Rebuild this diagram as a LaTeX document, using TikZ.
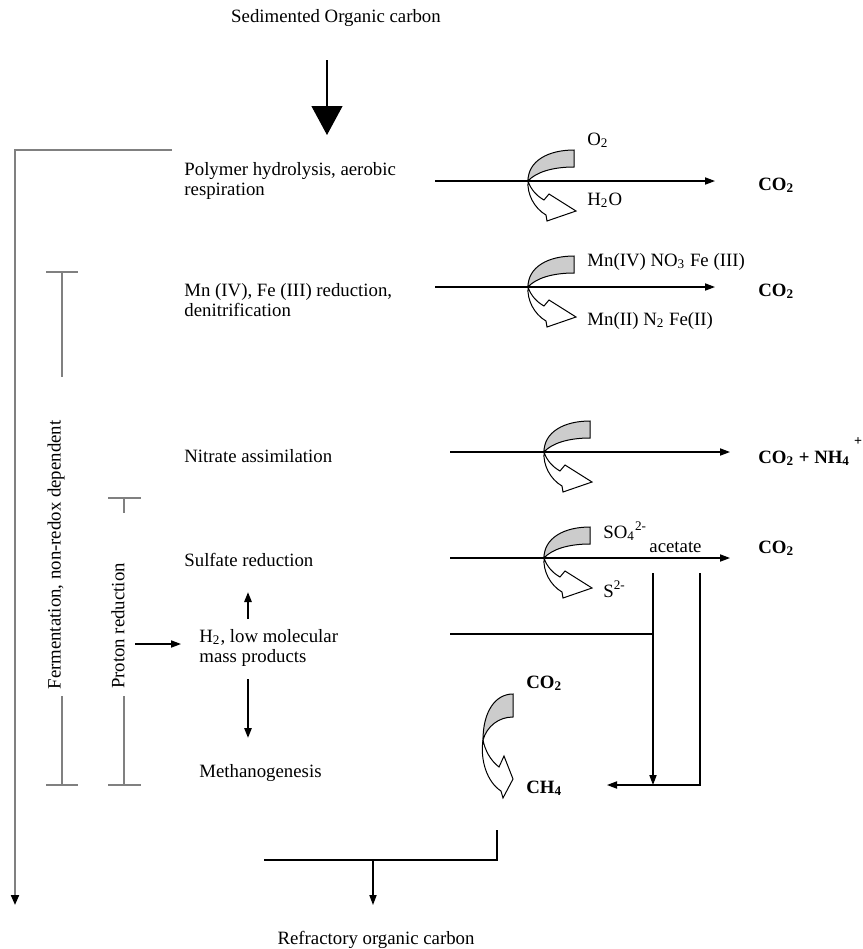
\documentclass[tikz,border=0pt]{standalone}
\usepackage{fontspec}
\setmainfont{Liberation Serif}
\usetikzlibrary{arrows.meta, positioning}
\definecolor{bargray}{gray}{0.5}
\tikzset{
    x=0.5pt, y=-0.5pt, % one unit is one pixel of the sketch, y runs down
    every node/.style={ % all the labels
        font=\fontsize{9.4}{10}\selectfont,
        inner sep=0pt
    },
    txt/.style={anchor=base west},
    twoline/.style={anchor=north west, align=left},
    prod/.style={ % bold end products
        anchor=base west,
        font=\fontsize{9.4}{10}\selectfont\bfseries
    },
    flow/.style={ % thin black connectors
        draw,
        line width=0.6pt,
        >={Triangle[length=5pt,width=3.6pt]}
    },
    thickflow/.style={flow, line width=1pt},
    bar/.style={ % gray brackets on the left
        draw=bargray,
        line width=1pt
    },
    redox/.pic={ % curved electron acceptor arrow
        \draw[fill=gray!40, line width=0.5pt] (0,0) .. controls (0,-20) and (20,-31) .. (46,-31)
            -- (46,-14) .. controls (25,-14) and (8,-9) .. (0,0) -- cycle;
        \draw[fill=white, line width=0.5pt] (0,0) .. controls (-1,13) and (6,27) .. (18,34)
            -- (19,40) -- (48,30) -- (21,13) -- (16,19) .. controls (9,15) and (3,9) .. (0,0) -- cycle;
    },
    redoxv/.pic={ % the upright one for methanogenesis
        \draw[fill=gray!40, line width=0.5pt] (0,0) .. controls (0,-28) and (12,-46) .. (30,-46)
            -- (30,-23) .. controls (16,-23) and (4,-14) .. (0,0) -- cycle;
        \draw[fill=white, line width=0.5pt] (0,0) .. controls (-3,20) and (4,42) .. (18,51)
            -- (20,58) -- (30,39) -- (21,16) -- (16,27) .. controls (7,20) and (2,10) .. (0,0) -- cycle;
    }
}

\begin{document}
\begin{tikzpicture}
    \useasboundingbox (0,0) rectangle (863,949);

    % labels of the processes
    \node[anchor=base] (sed) at (336,22) {Sedimented Organic carbon};
    \node[twoline] (poly) at (184,162) {Polymer hydrolysis, aerobic\\respiration};
    \node[twoline] (mnfe) at (184,283) {Mn (IV), Fe (III) reduction,\\denitrification};
    \node[txt] (nitr) at (184,462) {Nitrate assimilation};
    \node[txt] (sulf) at (184,566) {Sulfate reduction};
    \node[twoline] (hlow) at (199,629) {H\textsubscript{2}, low molecular\\mass products};
    \node[txt] (meth) at (199,777) {Methanogenesis};
    \node[anchor=base] (refr) at (376,944) {Refractory organic carbon};
    \node[rotate=90] (ferm) at (56,555) {Fermentation, non-redox dependent};
    \node[rotate=90] (prot) at (118,626) {Proton reduction};

    % acceptors and products
    \node[txt] (o2) at (587,145) {O\textsubscript{2}};
    \node[txt] (h2o) at (587,205) {H\textsubscript{2}O};
    \node[prod] (co2a) at (758,190) {CO\textsubscript{2}};
    \node[txt] (ox) at (587,266) {Mn(IV) NO\textsubscript{3} Fe (III)};
    \node[txt] (red) at (587,325) {Mn(II) N\textsubscript{2} Fe(II)};
    \node[prod] (co2b) at (758,296) {CO\textsubscript{2}};
    \node[prod] (co2nh) at (758,463) {CO\textsubscript{2} + NH\textsubscript{4}\kern2pt\raisebox{9pt}{\scriptsize +}};
    \node[txt] (so4) at (603,538) {SO\textsubscript{4}\textsuperscript{2-}};
    \node[txt] (acet) at (649,552) {acetate};
    \node[prod] (co2c) at (758,553) {CO\textsubscript{2}};
    \node[txt] (s2) at (603,597) {S\textsuperscript{2-}};
    \node[prod] (co2d) at (526,688) {CO\textsubscript{2}};
    \node[prod] (ch4) at (526,793) {CH\textsubscript{4}};

    % end points of the connectors
    \coordinate (in) at (327,60);
    \coordinate (intip) at (327,135);
    \coordinate (ol) at (172,150);
    \coordinate (oe) at (15,905);
    \coordinate (r1s) at (435,181); \coordinate (r1e) at (715,181);
    \coordinate (r2s) at (435,287); \coordinate (r2e) at (715,287);
    \coordinate (r3s) at (450,452); \coordinate (r3e) at (730,452);
    \coordinate (r4s) at (450,558); \coordinate (r4e) at (730,558);
    \coordinate (pr) at (135,644); \coordinate (pre) at (181,644);
    \coordinate (up1) at (248,619); \coordinate (up2) at (248,592);
    \coordinate (dn1) at (248,679); \coordinate (dn2) at (248,738);
    \coordinate (hs) at (450,634); \coordinate (j1) at (653,634);
    \coordinate (ac1) at (653,573); \coordinate (j2) at (653,785);
    \coordinate (ac2) at (700,573); \coordinate (ce) at (607,785);
    \coordinate (m1) at (497,830); \coordinate (m2) at (264,860);
    \coordinate (b1) at (373,860); \coordinate (b2) at (373,905);

    % connectors
    \draw[flow, -{Triangle[length=14.5pt,width=15.5pt]}] (in) -- (intip);
    \draw[bar, -{Triangle[length=5pt,width=4pt,color=black]}] (ol) -| (oe);
    \draw[flow, ->] (r1s) -- (r1e);
    \draw[flow, ->] (r2s) -- (r2e);
    \draw[flow, ->] (r3s) -- (r3e);
    \draw[flow, ->] (r4s) -- (r4e);
    \draw[flow, ->] (pr) -- (pre);
    \draw[thickflow, ->] (up1) -- (up2);
    \draw[thickflow, ->] (dn1) -- (dn2);
    \draw[flow] (hs) -- (j1);
    \draw[flow, ->] (ac1) -- (j2);
    \draw[flow, ->] (ac2) |- (ce);
    \draw[flow] (m1) |- (m2);
    \draw[flow, ->] (b1) -- (b2);

    % brackets
    \draw[bar] (46,272) -- (78,272) (62,272) -- (62,377);
    \draw[bar] (62,696) -- (62,785) (46,785) -- (78,785);
    \draw[bar] (108,498) -- (141,498) (124,498) -- (124,513);
    \draw[bar] (124,696) -- (124,785) (108,785) -- (141,785);

    % curved arrows
    \pic at (528,181) {redox};
    \pic at (528,287) {redox};
    \pic at (544,452) {redox};
    \pic at (544,558) {redox};
    \pic at (483,740) {redoxv};
\end{tikzpicture}
\end{document}
